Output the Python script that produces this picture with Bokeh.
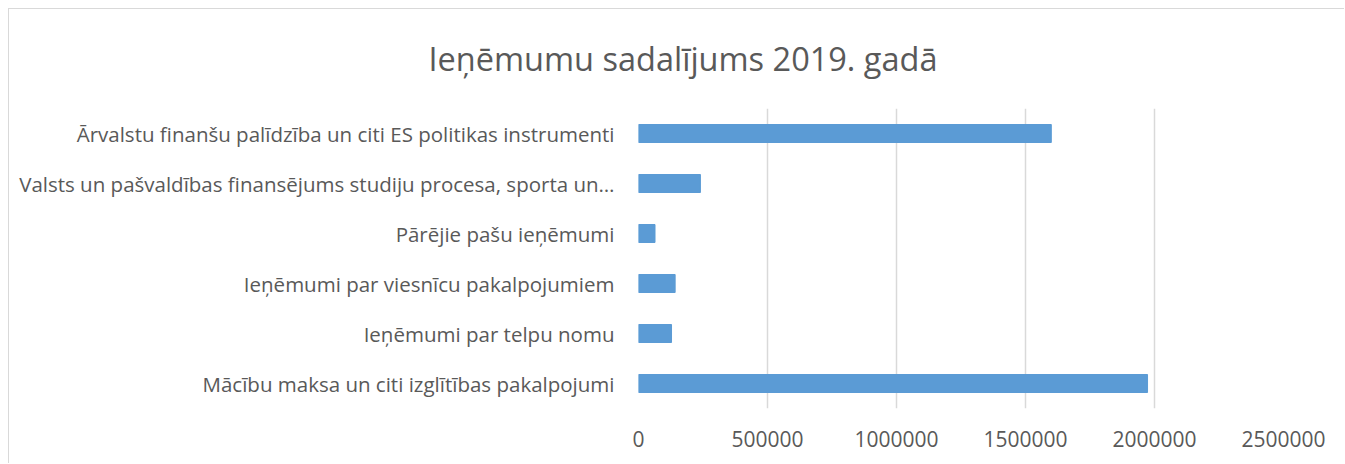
from bokeh.plotting import figure
from bokeh.models import FactorRange, Range1d, FixedTicker, BasicTickFormatter
from bokeh.embed import file_html
from bokeh.resources import INLINE

title = "Ieņēmumu sadalījums 2019. gadā"
categories = [
    "Ārvalstu finanšu palīdzība un citi ES politikas instrumenti",
    "Valsts un pašvaldības finansējums studiju procesa, sporta un…",
    "Pārējie pašu ieņēmumi",
    "Ieņēmumi par viesnīcu pakalpojumiem",
    "Ieņēmumi par telpu nomu",
    "Mācību maksa un citi izglītības pakalpojumi",
]
values = [1600000, 240000, 64000, 142000, 128000, 1973000]
x_ticks = [0, 500000, 1000000, 1500000, 2000000, 2500000]

FONT = "Open Sans"
TXT = "#595959"

p = figure(
    width=1336, height=455,
    y_range=FactorRange(factors=list(reversed(categories))),
    x_range=Range1d(0, 2500000),
    output_backend="svg", toolbar_location=None,
    min_border_left=629, min_border_right=62,
    min_border_top=99, min_border_bottom=56,
)
p.styles = {"border-left": "1px solid #d9d9d9", "border-top": "1px solid #d9d9d9",
            "margin-left": "8px", "margin-top": "8px"}
p.outline_line_color = None
p.background_fill_color = "white"
p.border_fill_color = "white"

p.title.text = title
p.title.align = "left"
p.title.offset = -210
p.title.vertical_align = "top"
p.title.standoff = 51
p.title.text_font = FONT
p.title.text_font_size = "32.5px"
p.title.text_font_style = "normal"
p.title.text_color = TXT

p.hbar(y=categories, right=values, left=0, height=0.36, color="#5B9BD5")

p.xaxis.ticker = FixedTicker(ticks=x_ticks)
p.xaxis.formatter = BasicTickFormatter(use_scientific=False)
for ax in (p.xaxis[0], p.yaxis[0]):
    ax.axis_line_color = None
    ax.major_tick_line_color = None
    ax.minor_tick_line_color = None
    ax.major_tick_out = 0
    ax.major_tick_in = 0
    ax.major_label_text_color = TXT
    ax.major_label_text_font = FONT
p.xaxis.major_label_text_font_size = "21px"
p.yaxis.major_label_text_font_size = "20.5px"
p.xaxis.major_label_standoff = 22
p.yaxis.major_label_standoff = 24

p.xgrid.grid_line_color = "#d9d9d9"
p.xgrid.grid_line_width = 1.5
p.ygrid.grid_line_color = None

open("out.html", "w").write(file_html(p, INLINE))
